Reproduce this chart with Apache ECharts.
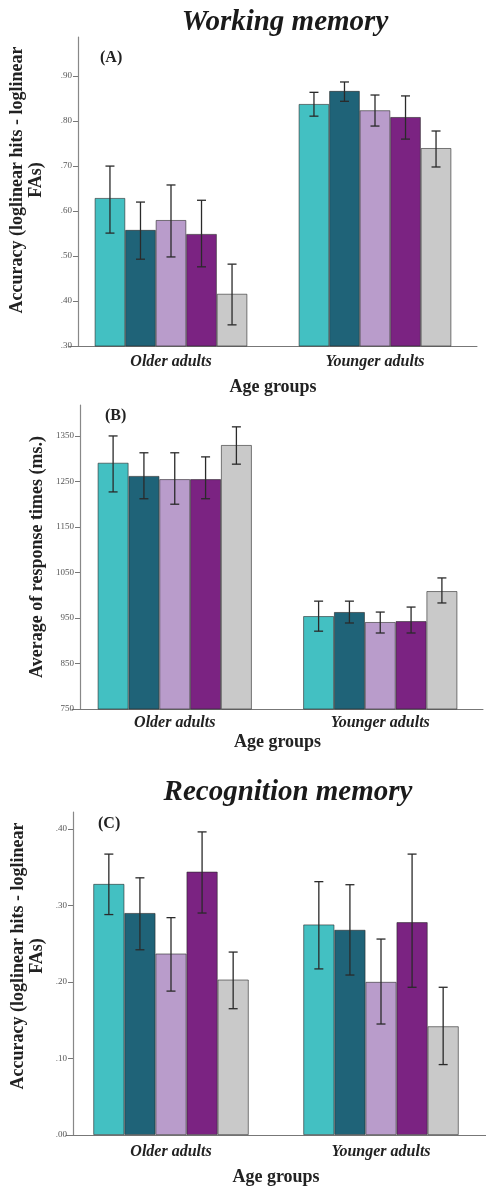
<!DOCTYPE html>
<html>
<head>
<meta charset="utf-8">
<script src="https://cdn.jsdelivr.net/npm/echarts@6/dist/echarts.min.js"></script>
<style>
html,body{margin:0;padding:0;background:#fff;}
#chart{width:486px;height:1190px;}
</style>
</head>
<body>
<div id="chart"></div>
<script>
// ---------- data ----------
const groups = ['Older adults', 'Younger adults'];
const conditionNames = ['Condition 1', 'Condition 2', 'Condition 3', 'Condition 4', 'Condition 5'];
const barColors = ['#43c0c2', '#1f6378', '#b99ccb', '#7b2382', '#c9c9c9'];

// Panel A: working memory accuracy, per condition [older, younger]
const wmAccMean = [[0.629, 0.838], [0.558, 0.867], [0.580, 0.824], [0.549, 0.809], [0.416, 0.740]];
const wmAccLow  = [[0.551, 0.811], [0.493, 0.844], [0.498, 0.789], [0.476, 0.760], [0.347, 0.698]];
const wmAccHigh = [[0.700, 0.864], [0.620, 0.887], [0.658, 0.858], [0.624, 0.856], [0.482, 0.778]];
const wmAccTicks = [0.3, 0.4, 0.5, 0.6, 0.7, 0.8, 0.9];

// Panel B: working memory response times (ms)
const wmRtMean = [[1291, 954], [1262, 963], [1255, 941], [1255, 943], [1330, 1009]];
const wmRtLow  = [[1227, 921], [1212, 939], [1200, 917], [1212, 917], [1288, 983]];
const wmRtHigh = [[1350, 987], [1313, 987], [1313, 963], [1304, 974], [1370, 1038]];
const wmRtTicks = [750, 850, 950, 1050, 1150, 1250, 1350];

// Panel C: recognition memory accuracy
const rmAccMean = [[0.328, 0.275], [0.290, 0.268], [0.237, 0.200], [0.344, 0.278], [0.203, 0.142]];
const rmAccLow  = [[0.288, 0.217], [0.242, 0.209], [0.188, 0.145], [0.290, 0.193], [0.165, 0.092]];
const rmAccHigh = [[0.367, 0.331], [0.336, 0.327], [0.284, 0.256], [0.396, 0.367], [0.239, 0.193]];
const rmAccTicks = [0.0, 0.1, 0.2, 0.3, 0.4];

// ---------- chart ----------
const serif = 'Liberation Serif, Times New Roman, serif';
const chart = echarts.init(document.getElementById('chart'), null, {renderer: 'canvas'});

const panels = [
  {mean: wmAccMean, low: wmAccLow, high: wmAccHigh, ticks: wmAccTicks, min: 0.3, max: 0.987,
   fmt: v => v.toFixed(2).replace(/^0/, ''), grid: {left: 69, top: 37, width: 408, height: 309},
   yOffset: -9, gap: 0.252, xLabelMargin: 8, xNameGap: 32},
  {mean: wmRtMean, low: wmRtLow, high: wmRtHigh, ticks: wmRtTicks, min: 750, max: 1418,
   fmt: v => String(v), grid: {left: 72, top: 405, width: 411, height: 304},
   yOffset: -8, gap: 0.25, xLabelMargin: 6, xNameGap: 24},
  {mean: rmAccMean, low: rmAccLow, high: rmAccHigh, ticks: rmAccTicks, min: 0, max: 0.422,
   fmt: v => v.toFixed(2).replace(/^0/, ''), grid: {left: 66, top: 812, width: 429, height: 323},
   yOffset: -7, gap: 0.26, xLabelMargin: 9, xNameGap: 33}
];

const grids = [], xAxes = [], yAxes = [], series = [];
panels.forEach((p, pi) => {
  grids.push(p.grid);
  xAxes.push({
    type: 'category', gridIndex: pi, data: groups,
    axisLine: {lineStyle: {color: '#777', width: 1}},
    axisTick: {alignWithLabel: true, length: 3, lineStyle: {color: '#555'}},
    axisLabel: {margin: p.xLabelMargin, color: '#222', fontFamily: serif, fontSize: 16, fontStyle: 'italic', fontWeight: 'bold'},
    name: 'Age groups', nameLocation: 'middle', nameGap: p.xNameGap,
    nameTextStyle: {color: '#222', fontFamily: serif, fontSize: 18, fontWeight: 'bold'}
  });
  yAxes.push({
    type: 'value', gridIndex: pi, min: p.min, max: p.max, offset: p.yOffset,
    splitLine: {show: false},
    axisLine: {show: true, lineStyle: {color: '#888', width: 1.2}},
    axisTick: {show: true, length: 5, customValues: p.ticks, lineStyle: {color: '#777'}},
    axisLabel: {customValues: p.ticks, margin: 6, formatter: p.fmt, color: '#555', fontFamily: serif, fontSize: 9}
  });
  p.mean.forEach((vals, ci) => {
    series.push({
      type: 'bar', name: conditionNames[ci], xAxisIndex: pi, yAxisIndex: pi,
      data: vals, barGap: '0%', barCategoryGap: (p.gap * 100).toFixed(1) + '%',
      itemStyle: {color: barColors[ci], borderColor: 'rgba(40,40,40,0.75)', borderWidth: 0.8},
      silent: true
    });
  });
  const errData = [];
  p.low.forEach((lowVals, ci) => {
    lowVals.forEach((lo, gi) => errData.push([gi, ci, lo, p.high[ci][gi]]));
  });
  const gap = p.gap;
  series.push({
    type: 'custom', xAxisIndex: pi, yAxisIndex: pi, z: 10, silent: true,
    encode: {x: 0, y: [2, 3]},
    data: errData,
    renderItem: function (params, api) {
      const g = api.value(0), ci = api.value(1), lo = api.value(2), hi = api.value(3);
      const band = api.size([1, 0])[0];
      const bw = band * (1 - gap) / 5;
      const top = api.coord([g, hi]);
      const bot = api.coord([g, lo]);
      const x = top[0] + (ci - 2) * bw;
      const cap = 4.5;
      const style = {stroke: '#2a2a2a', lineWidth: 1.3};
      return {
        type: 'group',
        children: [
          {type: 'line', shape: {x1: x, y1: top[1], x2: x, y2: bot[1]}, style: style},
          {type: 'line', shape: {x1: x - cap, y1: top[1], x2: x + cap, y2: top[1]}, style: style},
          {type: 'line', shape: {x1: x - cap, y1: bot[1], x2: x + cap, y2: bot[1]}, style: style}
        ]
      };
    }
  });
});

const titleStyle = {fontFamily: serif, fontSize: 29, fontStyle: 'italic', fontWeight: 'bold', fill: '#1a1a1a', textAlign: 'center', textVerticalAlign: 'middle'};
const panelLabelStyle = {fontFamily: serif, fontSize: 16, fontWeight: 'bold', fill: '#222', textAlign: 'left', textVerticalAlign: 'middle'};
const yNameStyle = {fontFamily: serif, fontSize: 18, fontWeight: 'bold', fill: '#222', textAlign: 'center', textVerticalAlign: 'middle', lineHeight: 19};

chart.setOption({
  animation: false,
  backgroundColor: '#fff',
  grid: grids, xAxis: xAxes, yAxis: yAxes, series: series,
  graphic: [
    {type: 'text', x: 285, y: 23, style: Object.assign({text: 'Working memory'}, titleStyle)},
    {type: 'text', x: 288, y: 793, style: Object.assign({text: 'Recognition memory'}, titleStyle)},
    {type: 'text', x: 100, y: 58, style: Object.assign({text: '(A)'}, panelLabelStyle)},
    {type: 'text', x: 105, y: 416, style: Object.assign({text: '(B)'}, panelLabelStyle)},
    {type: 'text', x: 98, y: 824, style: Object.assign({text: '(C)'}, panelLabelStyle)},
    {type: 'text', x: 27, y: 180, rotation: Math.PI / 2, style: Object.assign({text: 'Accuracy (loglinear hits - loglinear\nFAs)'}, yNameStyle)},
    {type: 'text', x: 37, y: 557, rotation: Math.PI / 2, style: Object.assign({text: 'Average of response times (ms.)'}, yNameStyle)},
    {type: 'text', x: 28, y: 956, rotation: Math.PI / 2, style: Object.assign({text: 'Accuracy (loglinear hits - loglinear\nFAs)'}, yNameStyle)}
  ]
});
</script>
</body>
</html>
